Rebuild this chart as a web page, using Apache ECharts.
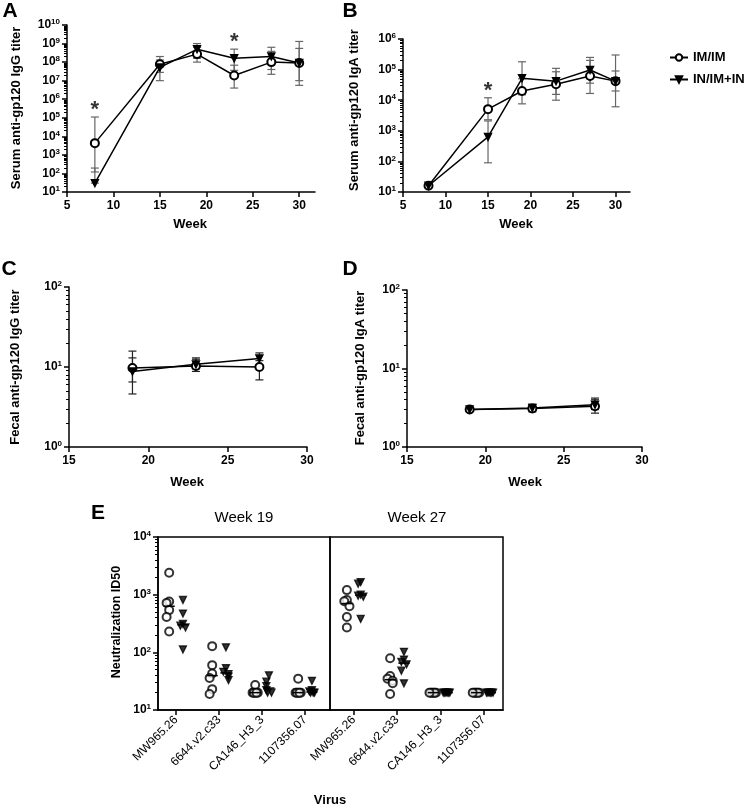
<!DOCTYPE html>
<html>
<head>
<meta charset="utf-8">
<script src="https://cdn.jsdelivr.net/npm/echarts@6/dist/echarts.min.js"></script>
<style>
  html, body { margin: 0; padding: 0; background: #fff; }
  #main { width: 750px; height: 808px; }
</style>
</head>
<body>
<div id="main"></div>
<script>
const FONT = '"Liberation Sans", Arial, sans-serif';

// A: serum IgG
const weeksSerum = [8, 15, 19, 23, 27, 30];
const igGSerumIm = [4300, 7.6e7, 2.7e8, 1.9e7, 1e8, 9e7];
const igGSerumImLo = [120, 1e7, 1e8, 4e6, 2.2e7, 5.6e6];
const igGSerumImHi = [1.1e5, 2e8, 6.3e8, 6.8e7, 3.8e8, 1.3e9];
const igGSerumIn = [30, 5.2e7, 4.9e8, 1.6e8, 2e8, 9e7];
const igGSerumInLo = [30, 2.8e7, 1.6e8, 3.6e7, 4e7, 1e7];
const igGSerumInHi = [195, 1.3e8, 1e9, 5e8, 6.3e8, 5.5e8];
const igGSerumSig = [8, 23];

// B: serum IgA
const igASerumIm = [16, 5100, 20000, 33000, 62000, 42000];
const igASerumImLo = [16, 2300, 7600, 10000, 16600, 6100];
const igASerumImHi = [16, 12000, 50000, 85000, 200000, 300000];
const igASerumIn = [16, 630, 52000, 42000, 97000, 42000];
const igASerumInLo = [16, 90, 15000, 15500, 36000, 20000];
const igASerumInHi = [16, 2100, 180000, 110000, 250000, 90000];
const igASerumSig = [15];

// C, D: fecal
const weeksFecal = [19, 23, 27];
const igGFecalIm = [9.7, 10.3, 10];
const igGFecalImLo = [4.6, 8.8, 6.9];
const igGFecalImHi = [15.8, 12.5, 12];
const igGFecalIn = [8.8, 10.8, 12.8];
const igGFecalInLo = [6.5, 9.5, 10.5];
const igGFecalInHi = [13, 13, 15];
const igAFecalIm = [3.0, 3.1, 3.3];
const igAFecalImLo = [2.9, 2.8, 2.7];
const igAFecalImHi = [3.1, 3.4, 4.0];
const igAFecalIn = [3.0, 3.15, 3.45];
const igAFecalInLo = [2.9, 2.9, 3.0];
const igAFecalInHi = [3.1, 3.5, 4.2];

// E: neutralization ID50 per animal
const viruses = ['MW965.26', '6644.v2.c33', 'CA146_H3_3', '1107356.07'];
const w19Im = [[2400, 760, 720, 540, 410, 230], [128, 60, 43, 36, 23, 19], [27, 20, 20, 20, 20, 20], [35, 20, 20, 20, 20, 20]];
const w19In = [[810, 470, 310, 290, 270, 112], [122, 53, 46, 42, 38, 33], [40, 31, 26, 22, 20, 20], [32, 22, 21, 20, 20, 20]];
const w27Im = [[1200, 810, 770, 630, 410, 270], [79, 39, 35, 32, 29, 19], [20, 20, 20, 20, 20, 20], [20, 20, 20, 20, 20, 20]];
const w27In = [[1650, 1550, 1000, 960, 920, 380], [102, 75, 68, 62, 48, 29], [20, 20, 20, 20, 20, 20], [20, 20, 20, 20, 20, 20]];

const weekTicks = [5, 10, 15, 20, 25, 30];
const fecalTicks = [15, 20, 25, 30];

function decades(min, max) {
  const out = [];
  for (let v = min; v <= max * 1.0001; v *= 10) out.push(v);
  return out;
}
function minors(min, max) {
  const out = [];
  decades(min, max).slice(0, -1).forEach(d => {
    for (let m = 2; m <= 9; m++) out.push(m * d);
  });
  return out;
}

const black = { color: '#000', width: 1.5 };

function logAxes(grid, min, max) {
  return [{
    type: 'log', logBase: 10, gridIndex: grid, min: min, max: max, position: 'left',
    axisLine: { show: true, onZero: false, lineStyle: black },
    axisTick: { show: true, customValues: decades(min, max), length: 5, lineStyle: black },
    axisLabel: {
      customValues: decades(min, max), margin: 7, color: '#000',
      formatter: v => '{b|10}{s|' + Math.round(Math.log10(v)) + '}',
      rich: {
        b: { fontSize: 12, fontWeight: 'bold', fontFamily: FONT, color: '#000', lineHeight: 14 },
        s: { fontSize: 8, fontWeight: 'bold', fontFamily: FONT, color: '#000', verticalAlign: 'top' }
      }
    },
    splitLine: { show: false }
  }, {
    type: 'log', logBase: 10, gridIndex: grid, min: min, max: max, position: 'left',
    axisLine: { show: false, onZero: false },
    axisTick: { show: true, customValues: minors(min, max), length: 3, lineStyle: { color: '#000', width: 1 } },
    axisLabel: { show: false },
    splitLine: { show: false }
  }];
}

function weekAxis(grid, min, max, ticks) {
  return {
    type: 'value', gridIndex: grid, min: min, max: max,
    axisLine: { show: true, onZero: false, lineStyle: black },
    axisTick: { show: true, customValues: ticks, length: 5, lineStyle: black },
    axisLabel: { customValues: ticks, color: '#000', fontSize: 12, fontWeight: 'bold', fontFamily: FONT, margin: 8 },
    splitLine: { show: false }
  };
}

function virusAxis(grid, min, max) {
  const idx = [0, 1, 2, 3];
  return {
    type: 'value', gridIndex: grid, min: min, max: max,
    axisLine: { show: true, onZero: false, lineStyle: black },
    axisTick: { show: true, customValues: idx, length: 5, lineStyle: black },
    axisLabel: {
      customValues: idx, rotate: 45, margin: 8, color: '#000', fontSize: 12, fontFamily: FONT,
      formatter: v => viruses[Math.round(v)]
    },
    splitLine: { show: false }
  };
}

function errorBars(xi, yi, weeks, lo, hi, color) {
  return {
    type: 'custom', xAxisIndex: xi, yAxisIndex: yi, silent: true, z: 1,
    data: weeks.map((w, i) => [w, lo[i], hi[i]]),
    renderItem: function (params, api) {
      const x = api.value(0);
      const a = api.coord([x, api.value(1)]);
      const b = api.coord([x, api.value(2)]);
      const st = { stroke: color, lineWidth: 1.2 };
      return {
        type: 'group', children: [
          { type: 'line', shape: { x1: a[0], y1: a[1], x2: b[0], y2: b[1] }, style: st },
          { type: 'line', shape: { x1: a[0] - 4, y1: a[1], x2: a[0] + 4, y2: a[1] }, style: st },
          { type: 'line', shape: { x1: b[0] - 4, y1: b[1], x2: b[0] + 4, y2: b[1] }, style: st }
        ]
      };
    }
  };
}

function meanLine(name, xi, yi, weeks, vals) {
  const tri = name === 'IN/IM+IN';
  return {
    name: name, type: 'line', xAxisIndex: xi, yAxisIndex: yi, z: 3,
    data: weeks.map((w, i) => [w, vals[i]]),
    symbol: tri ? 'triangle' : 'emptyCircle',
    symbolRotate: tri ? 180 : 0,
    symbolSize: tri ? 7 : 8,
    showAllSymbol: true,
    lineStyle: { color: '#000', width: 1.5 },
    itemStyle: { color: '#000', borderColor: '#000', borderWidth: 1.4 },
    emphasis: { disabled: true }
  };
}

function stars(xi, yi, weeks, sig, his) {
  return {
    type: 'scatter', xAxisIndex: xi, yAxisIndex: yi, symbolSize: 0, silent: true,
    data: sig.map(w => {
      const i = weeks.indexOf(w);
      return [w, Math.max.apply(null, his.map(h => h[i]))];
    }),
    label: { show: true, position: 'top', distance: -4, formatter: '*', color: '#000', fontSize: 22, fontWeight: 'bold', fontFamily: FONT }
  };
}

function panel(xi, yi, weeks, im, imLo, imHi, inn, inLo, inHi, errColor) {
  return [
    errorBars(xi, yi, weeks, imLo, imHi, errColor),
    errorBars(xi, yi, weeks, inLo, inHi, errColor),
    meanLine('IM/IM', xi, yi, weeks, im),
    meanLine('IN/IM+IN', xi, yi, weeks, inn)
  ];
}

function median(vals) {
  const s = vals.slice().sort((a, b) => a - b);
  const n = s.length;
  return n % 2 ? s[(n - 1) / 2] : (s[n / 2 - 1] + s[n / 2]) / 2;
}

// spread points with nearly equal values sideways, like a column scatter
function swarm(vals, center) {
  const pattern = [0, -1, 1, -0.5, 0.5, -1.5, 1.5, -2, 2];
  const placed = [];
  vals.slice().sort((a, b) => b - a).forEach(v => {
    const lv = Math.log10(v);
    const k = placed.filter(p => Math.abs(p.lv - lv) < 0.12).length;
    placed.push({ lv: lv, x: center + pattern[Math.min(k, pattern.length - 1)] * 0.06, v: v });
  });
  return placed.map(p => [p.x, p.v]);
}

function neutSeries(xi, yi, imSets, inSets) {
  const out = [];
  const defs = [['IM/IM', imSets, -0.16], ['IN/IM+IN', inSets, 0.16]];
  defs.forEach(([name, sets, off]) => {
    const tri = name === 'IN/IM+IN';
    let pts = [];
    sets.forEach((vals, c) => { pts = pts.concat(swarm(vals, c + off)); });
    out.push({
      name: name, type: 'scatter', xAxisIndex: xi, yAxisIndex: yi, z: 3,
      data: pts,
      symbol: tri ? 'triangle' : 'emptyCircle',
      symbolRotate: tri ? 180 : 0,
      symbolSize: tri ? 7 : 8,
      itemStyle: { color: '#000', borderColor: '#000', borderWidth: 1.3 },
      emphasis: { disabled: true }
    });
    out.push({
      type: 'custom', xAxisIndex: xi, yAxisIndex: yi, silent: true, z: 4,
      data: sets.map((vals, c) => [c + off, median(vals)]),
      renderItem: function (params, api) {
        const a = api.coord([api.value(0) - 0.13, api.value(1)]);
        const b = api.coord([api.value(0) + 0.13, api.value(1)]);
        return { type: 'line', shape: { x1: a[0], y1: a[1], x2: b[0], y2: b[1] }, style: { stroke: '#000', lineWidth: 1.5 } };
      }
    });
  });
  return out;
}

function txt(x, y, text, size, bold, rot) {
  return {
    type: 'text', x: x, y: y, rotation: rot ? Math.PI / 2 : 0,
    style: { text: text, fill: '#000', font: (bold ? 'bold ' : '') + size + 'px ' + FONT, align: 'center', verticalAlign: 'middle' }
  };
}

const yA = logAxes(0, 10, 1e10);
const yB = logAxes(1, 10, 1e6);
const yC = logAxes(2, 1, 100);
const yD = logAxes(3, 1, 100);
const yE = logAxes(4, 10, 1e4);
const yE2 = { type: 'log', logBase: 10, gridIndex: 5, min: 10, max: 1e4, show: false };

const boxed = { show: true, borderColor: '#000', borderWidth: 1.5, backgroundColor: 'transparent' };

const chart = echarts.init(document.getElementById('main'));
chart.setOption({
  animation: false,
  backgroundColor: '#fff',
  textStyle: { fontFamily: FONT },
  legend: {
    orient: 'vertical', left: 664, top: 46, itemWidth: 18, itemHeight: 8, itemGap: 9,
    selectedMode: false, data: ['IM/IM', 'IN/IM+IN'],
    textStyle: { color: '#000', fontSize: 13, fontWeight: 'bold', fontFamily: FONT }
  },
  grid: [
    { left: 67, top: 25, width: 248, height: 167, outerBoundsMode: 'none' },
    { left: 403, top: 39, width: 227, height: 153, outerBoundsMode: 'none' },
    { left: 69, top: 287, width: 238, height: 160, outerBoundsMode: 'none' },
    { left: 407, top: 290, width: 235, height: 157, outerBoundsMode: 'none' },
    Object.assign({ left: 158, top: 537, width: 172, height: 173, outerBoundsMode: 'none' }, boxed),
    Object.assign({ left: 330, top: 537, width: 173, height: 173, outerBoundsMode: 'none' }, boxed)
  ],
  xAxis: [
    weekAxis(0, 5, 31.7, weekTicks),
    weekAxis(1, 5, 31.7, weekTicks),
    weekAxis(2, 15, 30, fecalTicks),
    weekAxis(3, 15, 30, fecalTicks),
    virusAxis(4, -0.42, 3.58),
    virusAxis(5, -0.55, 3.45)
  ],
  yAxis: [yA[0], yA[1], yB[0], yB[1], yC[0], yC[1], yD[0], yD[1], yE[0], yE[1], yE2],
  series: [].concat(
    panel(0, 0, weeksSerum, igGSerumIm, igGSerumImLo, igGSerumImHi, igGSerumIn, igGSerumInLo, igGSerumInHi, '#666'),
    [stars(0, 0, weeksSerum, igGSerumSig, [igGSerumImHi, igGSerumInHi])],
    panel(1, 2, weeksSerum, igASerumIm, igASerumImLo, igASerumImHi, igASerumIn, igASerumInLo, igASerumInHi, '#666'),
    [stars(1, 2, weeksSerum, igASerumSig, [igASerumImHi, igASerumInHi])],
    panel(2, 4, weeksFecal, igGFecalIm, igGFecalImLo, igGFecalImHi, igGFecalIn, igGFecalInLo, igGFecalInHi, '#222'),
    panel(3, 6, weeksFecal, igAFecalIm, igAFecalImLo, igAFecalImHi, igAFecalIn, igAFecalInLo, igAFecalInHi, '#222'),
    neutSeries(4, 8, w19Im, w19In),
    neutSeries(5, 10, w27Im, w27In)
  ),
  graphic: [
    txt(10, 11, 'A', 21, true), txt(350, 11, 'B', 21, true),
    txt(9, 269, 'C', 21, true), txt(350, 269, 'D', 21, true),
    txt(98, 513, 'E', 21, true),
    txt(16, 108, 'Serum anti-gp120 IgG titer', 13, true, true),
    txt(354, 110, 'Serum anti-gp120 IgA titer', 13, true, true),
    txt(15, 367, 'Fecal anti-gp120 IgG titer', 13, true, true),
    txt(360, 368, 'Fecal anti-gp120 IgA titer', 13, true, true),
    txt(117, 622, 'Neutralization ID50', 12.5, true, true),
    txt(190, 224, 'Week', 13, true), txt(516, 224, 'Week', 13, true),
    txt(187, 482, 'Week', 13, true), txt(525, 482, 'Week', 13, true),
    txt(244, 518, 'Week 19', 15, false), txt(417, 518, 'Week 27', 15, false),
    txt(330, 800, 'Virus', 13, true)
  ]
});
</script>
</body>
</html>
